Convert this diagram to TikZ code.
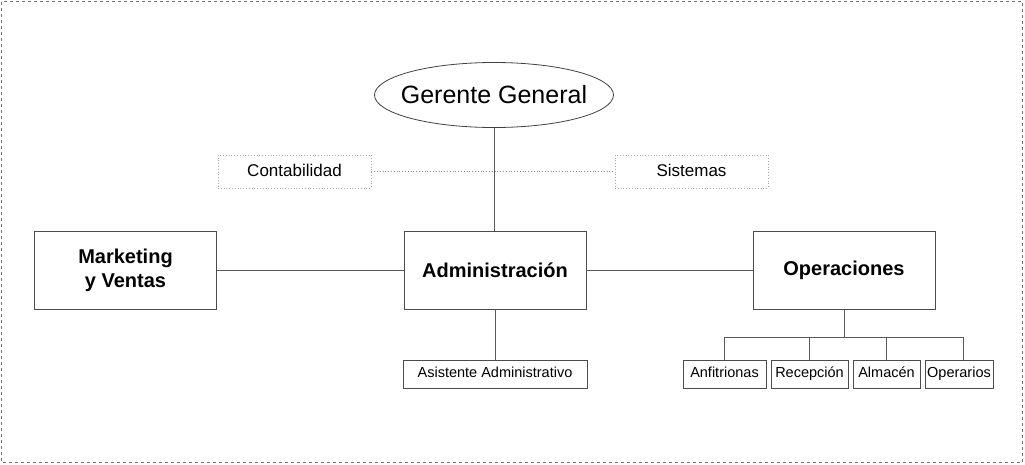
\documentclass[tikz,border=0pt]{standalone}
\usepackage{fontspec}
\setmainfont{Liberation Sans}

\begin{document}
\begin{tikzpicture}[x=1pt, y=-1pt, line width=0.8pt,
  unidad/.style={draw=black!70, font=\bfseries\fontsize{20}{24}\selectfont, align=center, minimum width=182pt, minimum height=78pt, inner sep=0pt},
  staff/.style={draw=black!35, dotted, font=\fontsize{17}{20}\selectfont, text height=12.5pt, text depth=3.5pt, minimum width=153pt, minimum height=33pt, inner sep=0pt},
  puesto/.style={draw=black!70, font=\fontsize{14.5}{17}\selectfont, text height=10.5pt, text depth=3pt, minimum height=28pt, inner sep=0pt},
  enlace/.style={draw=black!65, line width=0.8pt}]
\useasboundingbox (0,0) rectangle (1025,464);
\draw[black!55, dashed, line width=0.7pt] (1.5,1.5) rectangle (1022.5,462);
% direccion
\node[font=\fontsize{25}{28}\selectfont, inner sep=0pt] (gerente) at (494,95) {Gerente General};
\draw[black!75] (gerente) ellipse (119.5 and 32.5);
\coordinate (gerente-sur) at (494,127.5);
\node[staff] (conta) at (294.5,171.5) {Contabilidad};
\node[staff] (sist) at (691.5,171.5) {Sistemas};
% areas
\node[unidad] (mkt) at (125.5,270) {Marketing\\y Ventas};
\node[unidad] (adm) at (495,270) {Administración};
\node[unidad] (ope) at (844,270) {Operaciones};
% puestos
\node[puesto, minimum width=184pt] (asis) at (495,374) {Asistente Administrativo};
\node[puesto, minimum width=83pt] (anf) at (724.5,374) {Anfitrionas};
\node[puesto, minimum width=77pt] (rec) at (809.5,374) {Recepción};
\node[puesto, minimum width=67pt] (alm) at (886.5,374) {Almacén};
\node[puesto, minimum width=68pt] (opr) at (959,374) {Operarios};
\coordinate (bus) at (844,337);
% lineas
\draw[enlace] (gerente-sur) -- (adm.north -| gerente-sur);
\draw[black!45, dotted, line width=0.8pt] (conta.east) -- (sist.west);
\draw[enlace] (mkt.east) -- (adm.west);
\draw[enlace] (adm.east) -- (ope.west);
\draw[enlace] (adm.south) -- (asis.north);
\draw[enlace] (ope.south) -- (bus);
\draw[enlace] (anf.north |- bus) -- ([xshift=4pt]opr.north |- bus);
\foreach \p in {anf, rec, alm}{\draw[enlace] (\p.north |- bus) -- (\p.north);}
\draw[enlace] ([xshift=4pt]opr.north |- bus) -- ([xshift=4pt]opr.north);
\end{tikzpicture}
\end{document}
